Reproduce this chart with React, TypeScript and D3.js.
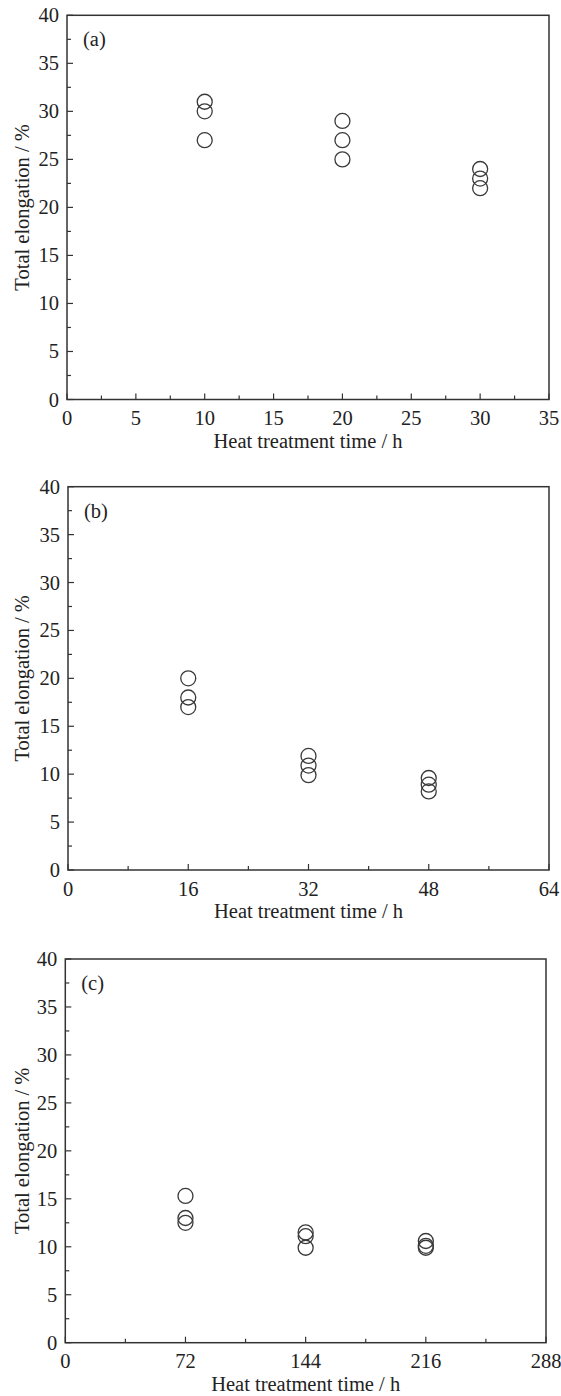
import React from 'react';
import * as d3 from 'd3';

// values
const timesA = [10, 10, 10, 20, 20, 20, 30, 30, 30];
const elongA = [31, 30, 27, 29, 27, 25, 24, 23, 22];
const timesB = [16, 16, 16, 32, 32, 32, 48, 48, 48];
const elongB = [20, 18, 17, 11.9, 10.9, 9.9, 9.6, 8.9, 8.2];
const timesC = [72, 72, 72, 144, 144, 144, 216, 216, 216];
const elongC = [15.3, 13, 12.5, 11.5, 11.1, 9.9, 10.6, 10.1, 9.9];

const xMaxA = 35, xStepA = 5;
const xMaxB = 64, xStepB = 16;
const xMaxC = 288, xStepC = 72;
const yMax = 40, yStep = 5;

const panelLabels = ['(a)', '(b)', '(c)'];
const xTitle = 'Heat treatment time / h';
const yTitle = 'Total elongation / %';

const FONT = '"Liberation Serif", "Times New Roman", serif';
const INK = '#333';
const FS = 20.5;

type Box = { left: number; right: number; top: number; bottom: number };

const Panel = ({ box, times, elong, xMax, xStep, label }:
  { box: Box; times: number[]; elong: number[]; xMax: number; xStep: number; label: string }) => {
  const x = d3.scaleLinear().domain([0, xMax]).range([box.left, box.right]);
  const y = d3.scaleLinear().domain([0, yMax]).range([box.bottom, box.top]);
  const xMajor = d3.range(0, xMax + 0.001, xStep);
  const xMinor = d3.range(xStep / 2, xMax, xStep);
  const yMajor = d3.range(0, yMax + 0.001, yStep);
  const yMinor = d3.range(yStep / 2, yMax, yStep);
  const midY = (box.top + box.bottom) / 2;
  return (
    <g>
      {/* frame */}
      <rect x={box.left} y={box.top} width={box.right - box.left} height={box.bottom - box.top}
        fill="none" stroke={INK} strokeWidth={1.5} />
      {/* x ticks, inward */}
      {xMajor.map(v => (
        <g key={'xM' + v}>
          <line x1={x(v)} x2={x(v)} y1={box.bottom} y2={box.bottom - 6} stroke={INK} strokeWidth={1.2} />
          <text x={x(v)} y={box.bottom + 25.5} textAnchor="middle" fontSize={FS} fontFamily={FONT} fill="#222">{v}</text>
        </g>
      ))}
      {xMinor.map(v => (
        <line key={'xm' + v} x1={x(v)} x2={x(v)} y1={box.bottom} y2={box.bottom - 4} stroke={INK} strokeWidth={1.2} />
      ))}
      {/* y ticks, inward */}
      {yMajor.map(v => (
        <g key={'yM' + v}>
          <line x1={box.left} x2={box.left + 6} y1={y(v)} y2={y(v)} stroke={INK} strokeWidth={1.2} />
          <text x={box.left - 8} y={y(v) + 7} textAnchor="end" fontSize={FS} fontFamily={FONT} fill="#222">{v}</text>
        </g>
      ))}
      {yMinor.map(v => (
        <line key={'ym' + v} x1={box.left} x2={box.left + 4} y1={y(v)} y2={y(v)} stroke={INK} strokeWidth={1.2} />
      ))}
      {/* points */}
      {times.map((t, i) => (
        <circle key={i} cx={x(t)} cy={y(elong[i])} r={7.5} fill="none" stroke="#3a3a3a" strokeWidth={1.3} />
      ))}
      <text x={box.left + 16} y={box.top + 31} fontSize={FS} fontFamily={FONT} fill="#222">{label}</text>
      <text x={(box.left + box.right) / 2} y={box.bottom + 48} textAnchor="middle" fontSize={FS} fontFamily={FONT} fill="#222">{xTitle}</text>
      <text transform={`translate(29,${midY}) rotate(-90)`} textAnchor="middle" fontSize={FS} fontFamily={FONT} fill="#222">{yTitle}</text>
    </g>
  );
};

export default function App() {
  return (
    <svg width={561} height={1396} style={{ position: 'absolute', left: 0, top: 0, background: '#fff' }}>
      <Panel box={{ left: 67, right: 549, top: 15.3, bottom: 399.5 }} times={timesA} elong={elongA}
        xMax={xMaxA} xStep={xStepA} label={panelLabels[0]} />
      <Panel box={{ left: 68, right: 549, top: 486.7, bottom: 870 }} times={timesB} elong={elongB}
        xMax={xMaxB} xStep={xStepB} label={panelLabels[1]} />
      <Panel box={{ left: 65.3, right: 546, top: 959, bottom: 1342.7 }} times={timesC} elong={elongC}
        xMax={xMaxC} xStep={xStepC} label={panelLabels[2]} />
    </svg>
  );
}
